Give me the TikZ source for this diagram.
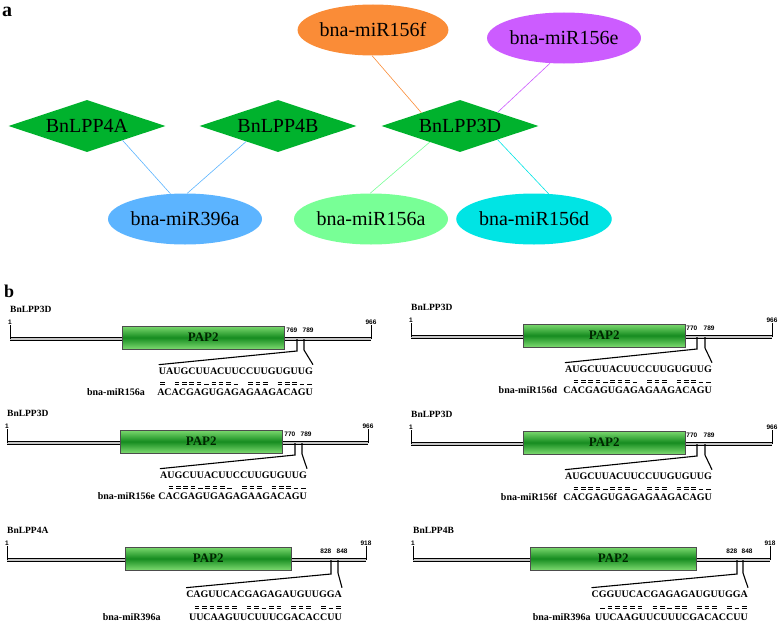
\documentclass[tikz,border=0pt]{standalone}
\usepackage{fontspec}
\setmainfont{Liberation Serif}
\setsansfont{Liberation Sans}
\usetikzlibrary{shapes.geometric,calc,positioning}

\definecolor{lppgreen}{RGB}{0,178,45}
\definecolor{mirorange}{RGB}{250,140,55}
\definecolor{mirpurple}{RGB}{204,92,255}
\definecolor{mirblue}{RGB}{92,180,255}
\definecolor{mirgreen}{RGB}{120,255,150}
\definecolor{mircyan}{RGB}{0,228,228}
\definecolor{paplight}{RGB}{125,218,112}
\definecolor{papdark}{RGB}{22,140,32}

\tikzset{
	lppnode/.style={diamond, aspect=3, fill=lppgreen, inner sep=0pt,
		minimum width=157pt, minimum height=52pt, font=\fontsize{20}{24}\selectfont},
	mirnode/.style={ellipse, inner sep=0pt, minimum width=139pt,
		minimum height=51pt, font=\fontsize{20}{24}\selectfont},
	link/.style={line width=0.6pt},
	panellbl/.style={inner sep=0pt, font=\bfseries\fontsize{20}{24}\selectfont},
	backbone/.style={line width=1.4pt, double=gray!45, double distance=1.3pt},
	endtick/.style={line width=0.6pt},
	sitetick/.style={line width=1.1pt},
	numlbl/.style={inner sep=0.5pt, font=\sffamily\bfseries\fontsize{6.5}{7}\selectfont},
	genelbl/.style={inner sep=0pt, font=\bfseries\fontsize{9.5}{10}\selectfont},
	papbox/.style={draw=black!70, line width=0.4pt, top color=paplight,
		bottom color=paplight, middle color=papdark, inner sep=0pt,
		minimum height=23pt, text=black!85!green,
		font=\bfseries\fontsize{13}{13}\selectfont},
	seqtxt/.style={inner sep=0pt, font=\bfseries\fontsize{10}{10}\selectfont},
	pairbar/.style={line width=1pt}
}

\begin{document}
\begin{tikzpicture}[x=1pt, y=-1pt]
	\useasboundingbox (0,0) rectangle (778,626);
	
	%% -- a: interaction network
	\node[panellbl, anchor=base west] (lbla) at (2,17) {a};
	
	\node[mirnode, fill=mirorange] (m156f) at (373,30) {bna-miR156f};
	\node[mirnode, fill=mirpurple] (m156e) at (564,38) {bna-miR156e};
	
	\node[lppnode] (lpp4a) at (87,126) {BnLPP4A};
	\node[lppnode] (lpp4b) at (278,126) {BnLPP4B};
	\node[lppnode] (lpp3d) at (460,126) {BnLPP3D};
	
	\node[mirnode, fill=mirblue] (m396a) at (185,219) {bna-miR396a};
	\node[mirnode, fill=mirgreen] (m156a) at (371,219) {bna-miR156a};
	\node[mirnode, fill=mircyan] (m156d) at (534,219) {bna-miR156d};
	
	\draw[link, mirblue] (lpp4a.-22) -- (m396a.120);
	\draw[link, mirblue] (lpp4b.206) -- (m396a.85);
	\draw[link, mirorange] (m156f.-92) -- (lpp3d.161);
	\draw[link, mirpurple] (m156e.241) -- (lpp3d.20);
	\draw[link, mirgreen] (lpp3d.208) -- (m156a.92);
	\draw[link, mircyan] (lpp3d.-20) -- (m156d.60);
	
	%% -- b: target sites
	\node[panellbl, anchor=base west, font=\bfseries\fontsize{18}{20}\selectfont]
	(lblb) at (4,297) {b};
	
	\foreach \p/\x/\y/\len/\bsx/\bex/\ta/\tb/\sr/\dy/\ng/\la/\lb/\tot/\gene/\mir/\tseq/\mseq/\nn/\pat in {
		1/10/339/361/112/274/287/294/303/0/12/769/789/966/BnLPP3D/bna-miR156a/UAUGCUUACUUCCUUGUGUUG/ACACGAGUGAGAGAAGACAGU/21/{1,0,1,1,1,1,2,1,1,1,2,0,1,1,1,0,1,1,1,2,2},
		2/411/337/361/112/274/286/294/301/0/6/770/789/966/BnLPP3D/bna-miR156d/AUGCUUACUUCCUUGUGUUG/CACGAGUGAGAGAAGACAGU/20/{0,1,1,1,1,2,1,1,1,2,0,1,1,1,0,1,1,1,2,2},
		3/7/443/361/113/275/288/295/300/0/3/770/789/966/BnLPP3D/bna-miR156e/AUGCUUACUUCCUUGUGUUG/CACGAGUGAGAGAAGACAGU/20/{0,1,1,1,1,2,1,1,1,2,0,1,1,1,0,1,1,1,2,2},
		4/411/444/361/112/274/286/294/301/0/6/770/789/966/BnLPP3D/bna-miR156f/AUGCUUACUUCCUUGUGUUG/CACGAGUGAGAGAAGACAGU/20/{0,1,1,1,1,2,1,1,1,2,0,1,1,1,0,1,1,1,2,2},
		5/7/560/359/118/284/324/331/335/2/28/828/848/918/BnLPP4A/bna-miR396a/CAGUUCACGAGAGAUGUUGGA/UUCAAGUUCUUUCGACACCUU/21/{0,1,1,1,1,1,1,0,1,1,2,1,1,0,1,1,1,0,1,2,1},
		6/413/560/357/117/283/324/330/335/2/4/828/848/918/BnLPP4B/bna-miR396a/CGGUUCACGAGAGAUGUUGGA/UUCAAGUUCUUUCGACACCUU/21/{0,2,1,1,1,1,1,0,1,1,2,1,1,0,1,1,1,0,1,2,1}} {
		
		%% -- transcript backbone
		\coordinate (st-\p) at (\x,\y);
		\coordinate (en-\p) at (\x+\len,\y);
		\draw[backbone] (st-\p) -- (en-\p);
		\draw[endtick] (st-\p) -- ++(0,-14) node[numlbl, anchor=south] (one-\p) {1};
		\draw[endtick] (en-\p) -- ++(0,-14) node[numlbl, anchor=south] (tot-\p) {\tot};
		\node[genelbl, anchor=base west] (gn-\p) at (\x,\y-27) {\gene};
		
		%% -- PAP2 domain
		\node[papbox, minimum width={(\bex-\bsx)*1pt}, anchor=west]
		(pap-\p) at (\x+\bsx,\y-1.5) {PAP2};
		
		%% -- cleavage site and duplex
		\coordinate (sa-\p) at (\x+\ta,\y);
		\coordinate (sb-\p) at (\x+\tb,\y);
		\node[numlbl, anchor=south east] (la-\p) at (\x+\ta+1,\y-6) {\la};
		\node[numlbl, anchor=south west] (lb-\p) at (\x+\tb-2,\y-6) {\lb};
		\node[seqtxt, anchor=base east] (seq-\p) at (\x+\sr,\y+35.5+\dy) {\tseq};
		\draw[sitetick] (sa-\p) -- ++(0,12+\dy) -- ([yshift=3pt]seq-\p.north west);
		\draw[sitetick] (sb-\p) -- ++(0,11+\dy) -- ([yshift=3pt]seq-\p.north east);
		\node[seqtxt, anchor=base east] (ms-\p) at ($(seq-\p.base east)+(0,21+\dy)$) {\mseq};
		\node[seqtxt, anchor=base east] (mn-\p) at ($(ms-\p.base west)+(-\ng,0)$) {\mir};
		
		\foreach \m [count=\i] in \pat {
			\coordinate (pm) at ($(seq-\p.base west)!{(\i-0.5)/\nn}!(seq-\p.base east)+(0,9+\dy/2)$);
			\ifnum\m=1 \draw[pairbar] ([xshift=-2.3pt,yshift=1.4pt]pm) -- ++(4.6,0); \fi
			\ifnum\m>0 \draw[pairbar] ([xshift=-2.3pt,yshift=-1.4pt]pm) -- ++(4.6,0); \fi
		}
	}
	
\end{tikzpicture}
\end{document}
